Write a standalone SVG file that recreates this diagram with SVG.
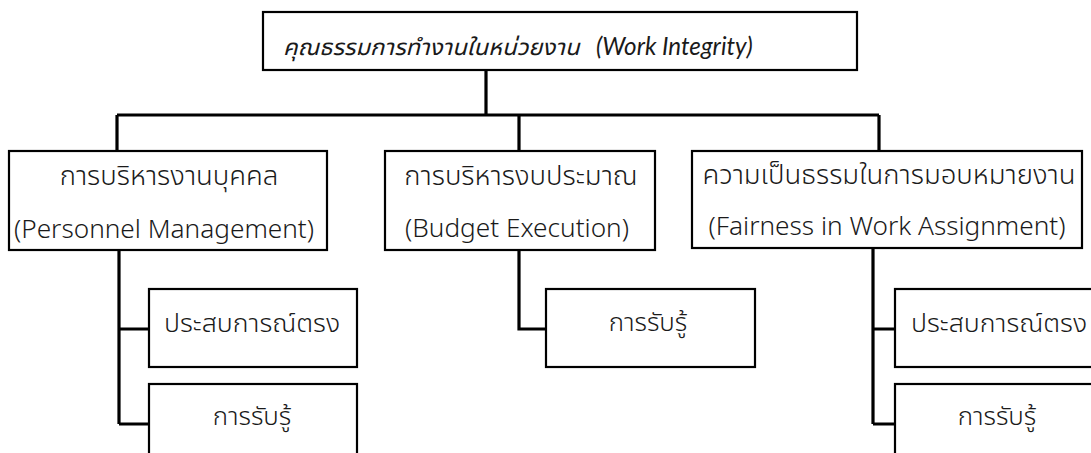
<svg xmlns="http://www.w3.org/2000/svg" width="1091" height="453" viewBox="0 0 1091 453">
<style>
.box{fill:#fff;stroke:#000;stroke-width:2.2}
.t{font-family:"Noto Sans Thai UI","Noto Sans Thai","Noto Sans","Liberation Sans",sans-serif;font-size:27.5px;font-weight:300;fill:#1a1a1a;text-anchor:middle}
.l{font-size:26.2px}
.s{font-size:26.7px}
.r{font-size:25.9px}
.ti{font-style:italic;text-anchor:start;font-weight:400}
.la{font-family:Lato,"Noto Sans",sans-serif}
.c{fill:none;stroke:#000;stroke-width:3.2}
</style>
<rect width="1091" height="453" fill="#fff"/>
<g id="connectors">
<path class="c" d="M486 70V115M117 115H879M117 115V151M519 115V151M879 115V151"/>
<path class="c" d="M119 250V424M119 329H149M119 424H149"/>
<path class="c" d="M519 250V329H546"/>
<path class="c" d="M873 248V424M873 329H895M873 424H895"/>
</g>
<g id="root">
<rect class="box" x="263" y="12" width="594" height="58"/>
<text class="t ti" x="283" y="55"><tspan font-size="23.8">คุณธรรมการทำงานในหน่วยงาน</tspan><tspan class="la" x="596" font-size="24.2">(Work Integrity)</tspan></text>
</g>
<g id="personnel">
<rect class="box" x="9" y="151" width="318" height="99"/>
<text class="t" x="169" y="185">การบริหารงานบุคคล</text>
<text class="t l" x="164" y="238">(Personnel Management)</text>
</g>
<g id="budget">
<rect class="box" x="385" y="151" width="270" height="99"/>
<text class="t" x="521" y="185">การบริหารงบประมาณ</text>
<text class="t l" x="517" y="237">(Budget Execution)</text>
</g>
<g id="fairness">
<rect class="box" x="692" y="151" width="390" height="97"/>
<text class="t" x="889" y="184">ความเป็นธรรมในการมอบหมายงาน</text>
<text class="t l" x="887" y="235">(Fairness in Work Assignment)</text>
</g>
<g id="p-direct">
<rect class="box" x="149" y="289" width="208" height="78"/>
<text class="t s" x="252" y="332">ประสบการณ์ตรง</text>
</g>
<g id="p-perception">
<rect class="box" x="149" y="384" width="208" height="90"/>
<text class="t r" x="252" y="425">การรับรู้</text>
</g>
<g id="b-perception">
<rect class="box" x="546" y="289" width="209" height="78"/>
<text class="t r" x="648" y="331">การรับรู้</text>
</g>
<g id="f-direct">
<rect class="box" x="895" y="289" width="208" height="78"/>
<text class="t s" x="999" y="332">ประสบการณ์ตรง</text>
</g>
<g id="f-perception">
<rect class="box" x="895" y="384" width="208" height="90"/>
<text class="t r" x="997" y="425">การรับรู้</text>
</g>
</svg>
